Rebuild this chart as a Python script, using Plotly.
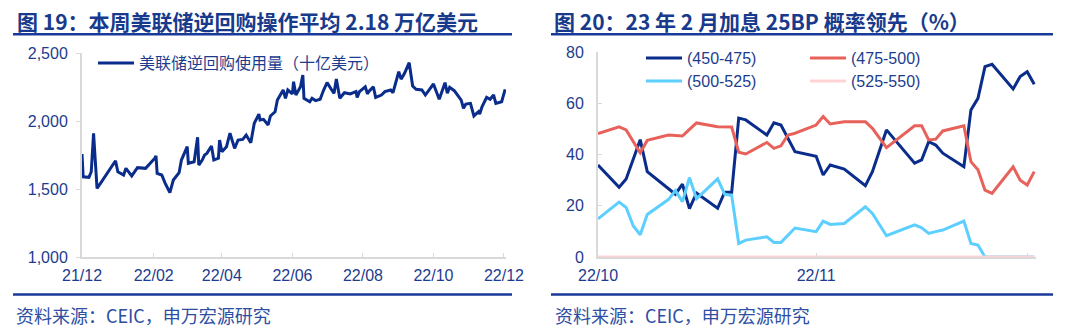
import plotly.graph_objects as go

# ---------------- data ----------------
# Fed overnight reverse repo usage (USD bn)
rrp_dates = [
    "2021-12-21", "2021-12-22", "2021-12-27", "2021-12-29", "2021-12-31",
    "2022-01-03", "2022-01-07", "2022-01-12", "2022-01-19", "2022-01-21",
    "2022-01-26", "2022-01-28", "2022-02-02", "2022-02-07", "2022-02-14",
    "2022-02-22", "2022-02-23", "2022-02-24", "2022-02-28", "2022-03-03",
    "2022-03-07", "2022-03-10", "2022-03-15", "2022-03-17", "2022-03-22",
    "2022-03-23", "2022-03-28", "2022-03-31", "2022-04-01", "2022-04-04",
    "2022-04-06", "2022-04-08", "2022-04-12", "2022-04-14", "2022-04-18",
    "2022-04-19", "2022-04-21", "2022-04-25", "2022-04-28", "2022-05-02",
    "2022-05-05", "2022-05-09", "2022-05-12", "2022-05-16", "2022-05-19",
    "2022-05-23", "2022-05-24", "2022-05-27", "2022-05-31", "2022-06-02",
    "2022-06-06", "2022-06-08", "2022-06-10", "2022-06-13", "2022-06-15",
    "2022-06-17", "2022-06-21", "2022-06-22", "2022-06-24", "2022-06-28",
    "2022-06-30", "2022-07-01", "2022-07-06", "2022-07-08", "2022-07-11",
    "2022-07-15", "2022-07-18", "2022-07-21", "2022-07-25", "2022-07-27",
    "2022-07-29", "2022-08-01", "2022-08-05", "2022-08-10", "2022-08-15",
    "2022-08-16", "2022-08-18", "2022-08-23", "2022-08-25", "2022-08-26",
    "2022-08-30", "2022-09-01", "2022-09-06", "2022-09-09", "2022-09-14",
    "2022-09-16", "2022-09-21", "2022-09-23", "2022-09-26", "2022-09-30",
    "2022-10-03", "2022-10-06", "2022-10-11", "2022-10-14", "2022-10-21",
    "2022-10-24", "2022-10-26", "2022-10-31", "2022-11-02", "2022-11-04",
    "2022-11-08", "2022-11-14", "2022-11-16", "2022-11-18", "2022-11-22",
    "2022-11-25", "2022-11-29", "2022-11-30", "2022-12-02", "2022-12-06",
    "2022-12-09", "2022-12-12", "2022-12-14", "2022-12-19", "2022-12-22",
]
rrp_values = [
    1757, 1590, 1586, 1627, 1910,
    1505, 1554, 1615, 1708, 1627,
    1603, 1652, 1596, 1657, 1652,
    1726, 1743, 1615, 1603, 1542,
    1473, 1566, 1620, 1713, 1811,
    1689, 1700, 1880, 1676, 1713,
    1750, 1762, 1816, 1713, 1726,
    1860, 1774, 1811, 1910, 1799,
    1860, 1865, 1897, 1840, 1983,
    2051, 2007, 2012, 1971, 2037,
    2068, 2154, 2184, 2228, 2167,
    2228, 2199, 2289, 2191, 2252,
    2338, 2167, 2142, 2167, 2150,
    2160, 2228, 2282, 2228, 2204,
    2308, 2167, 2208, 2199, 2216,
    2174, 2216, 2252, 2199, 2216,
    2252, 2174, 2191, 2216, 2228,
    2208, 2363, 2308, 2351, 2429,
    2257, 2233, 2228, 2191, 2272,
    2208, 2160, 2282, 2204, 2248,
    2223, 2154, 2093, 2125, 2130,
    2037, 2068, 2051, 2105, 2174,
    2160, 2191, 2130, 2142, 2233,
]
rrp_name = "美联储逆回购使用量（十亿美元）"
rrp_tickvals = ["2021-12-21", "2022-02-21", "2022-04-21", "2022-06-21",
                "2022-08-21", "2022-10-21", "2022-12-21"]
rrp_ticktext = ["21/12", "22/02", "22/04", "22/06", "22/08", "22/10", "22/12"]

# Feb-2023 FOMC target-range probabilities (%)
prob_dates = [
    "2022-10-21", "2022-10-24", "2022-10-25", "2022-10-26", "2022-10-27",
    "2022-10-28", "2022-10-31", "2022-11-01", "2022-11-02", "2022-11-03",
    "2022-11-04", "2022-11-07", "2022-11-08", "2022-11-09", "2022-11-10",
    "2022-11-11", "2022-11-14", "2022-11-15", "2022-11-16", "2022-11-17",
    "2022-11-18", "2022-11-21", "2022-11-22", "2022-11-23", "2022-11-25",
    "2022-11-28", "2022-11-29", "2022-12-01", "2022-12-05", "2022-12-06",
    "2022-12-07", "2022-12-08", "2022-12-09", "2022-12-12", "2022-12-13",
    "2022-12-14", "2022-12-15", "2022-12-16", "2022-12-19", "2022-12-20",
    "2022-12-21", "2022-12-22",
]
p_450_475 = [
    35.9, 27.2, 30.4, 38.0, 45.8, 33.3, 26.6, 24.5, 28.4, 18.9,
    25.0, 19.0, 25.3, 25.3, 54.2, 53.5, 47.6, 52.4, 51.5, 46.3,
    41.1, 39.3, 32.0, 35.9, 34.3, 27.8, 33.3, 49.6, 36.6, 37.9,
    45.0, 43.7, 40.5, 35.2, 57.4, 61.9, 74.3, 75.2, 65.6, 70.4,
    72.3, 67.4,
]
p_475_500 = [
    48.2, 50.8, 49.6, 45.0, 40.7, 45.5, 47.6, 47.4, 47.2, 49.8,
    52.3, 50.8, 50.7, 50.7, 40.9, 40.2, 44.7, 42.4, 43.4, 47.6,
    48.3, 51.5, 54.8, 51.9, 52.8, 52.8, 50.2, 42.7, 51.2, 51.2,
    45.7, 46.0, 49.2, 51.2, 37.2, 34.0, 26.1, 24.8, 35.2, 30.0,
    28.1, 33.3,
]
p_500_525 = [
    14.9, 21.4, 19.3, 12.2, 8.7, 16.6, 22.4, 25.9, 21.6, 31.0,
    22.7, 30.5, 24.5, 24.0, 5.3, 6.6, 7.9, 5.7, 5.7, 8.5,
    11.3, 9.9, 14.0, 12.7, 13.1, 19.6, 17.0, 8.3, 12.5, 11.4,
    9.2, 9.9, 10.5, 14.0, 5.3, 4.7, 0.0, 0.0, 0.0, 0.0,
    0.0, 0.0,
]
p_525_550 = [0.0] * 42
prob_names = ["(450-475)", "(475-500)", "(500-525)", "(525-550)"]
prob_tickvals = ["2022-10-21", "2022-11-21", "2022-12-21"]
prob_ticktext = ["22/10", "22/11", ""]

# ---------------- style ----------------
W, H = 1080, 327
NAVY = "#0A2D8C"
RED = "#E8625C"
SKY = "#5CCFFF"
PINK = "#FFD3D3"
TXT = "#1D3C8E"
AXIS = "#D9D9D9"
FONT = "Liberation Sans, Arial, Noto Sans CJK SC, sans-serif"
CJK = "Noto Sans CJK SC, Liberation Sans, sans-serif"


def px(x):
    return x / W


def py(y):
    return 1 - y / H


fig = go.Figure()

fig.add_trace(go.Scatter(
    x=rrp_dates, y=rrp_values, name=rrp_name, mode="lines",
    line=dict(color=NAVY, width=3), xaxis="x", yaxis="y", legend="legend",
))

# each probability series gets its own legend box (2 x 2 grid)
prob_series = [
    (p_450_475, prob_names[0], NAVY, "legend2"),
    (p_475_500, prob_names[1], RED, "legend3"),
    (p_500_525, prob_names[2], SKY, "legend4"),
    (p_525_550, prob_names[3], PINK, "legend5"),
]
for vals, name, color, leg in prob_series:
    fig.add_trace(go.Scatter(
        x=prob_dates, y=vals, name=name, mode="lines",
        line=dict(color=color, width=3), xaxis="x2", yaxis="y2", legend=leg,
    ))

axis_common = dict(
    showgrid=False, zeroline=False, showline=True, linecolor=AXIS, linewidth=2,
    tickfont=dict(family=FONT, size=16, color=TXT), tickcolor=AXIS,
    ticklen=4, tickwidth=1, automargin=False,
)

legend_common = dict(
    font=dict(family=FONT, size=16, color=TXT), bgcolor="rgba(0,0,0,0)",
    borderwidth=0, xanchor="left", yanchor="top", itemwidth=36,
)

fig.update_layout(
    width=W, height=H,
    margin=dict(l=0, r=0, t=0, b=0, pad=0, autoexpand=False),
    paper_bgcolor="white", plot_bgcolor="white",
    xaxis=dict(domain=[px(82), px(506)], type="date",
               range=["2021-12-21", "2022-12-22 18:00"],
               tickvals=rrp_tickvals, ticktext=rrp_ticktext,
               ticks="inside", ticklabelstandoff=3, anchor="y", **axis_common),
    yaxis=dict(domain=[py(257), py(53)], range=[1000, 2500],
               tickvals=[1000, 1500, 2000, 2500], tickformat=",",
               ticks="outside", ticklabelstandoff=5, anchor="x", **axis_common),
    xaxis2=dict(domain=[px(598), px(1036)], type="date",
                range=["2022-10-21", "2022-12-22 06:00"],
                tickvals=prob_tickvals, ticktext=prob_ticktext,
                ticks="inside", ticklabelstandoff=3, anchor="y2", **axis_common),
    yaxis2=dict(domain=[py(257), py(52)], range=[0, 80],
                tickvals=[0, 20, 40, 60, 80],
                ticks="inside", ticklabelstandoff=9, anchor="x2", **axis_common),
    legend=dict(x=px(93), y=py(46), **legend_common),
    legend2=dict(x=px(641), y=py(41), **legend_common),
    legend3=dict(x=px(805), y=py(41), **legend_common),
    legend4=dict(x=px(641), y=py(64), **legend_common),
    legend5=dict(x=px(805), y=py(64), **legend_common),
    showlegend=True,
)

# panel titles, rules and source notes
titles = [
    (15, "图 19：本周美联储逆回购操作平均 2.18 万亿美元"),
    (552, "图 20：23 年 2 月加息 25BP 概率领先（%）"),
]
for x0, text in titles:
    fig.add_annotation(
        x=px(x0), y=py(21), xref="paper", yref="paper", xanchor="left",
        yanchor="middle", showarrow=False, text=f"<b>{text}</b>",
        font=dict(family=CJK, size=21, color="#173A8C"),
    )

for x0, x1 in [(13, 512), (551, 1053)]:
    for yy in (34.3, 294.6):
        fig.add_shape(type="line", xref="paper", yref="paper",
                      x0=px(x0), x1=px(x1), y0=py(yy), y1=py(yy),
                      line=dict(color="#1A3A9A", width=2.5))

for x0 in (14, 553):
    fig.add_annotation(
        x=px(x0), y=py(315), xref="paper", yref="paper", xanchor="left",
        yanchor="middle", showarrow=False, text="资料来源：CEIC，申万宏源研究",
        font=dict(family=CJK, size=18, color="#2D4EA3"),
    )

fig.write_html("out.html")
